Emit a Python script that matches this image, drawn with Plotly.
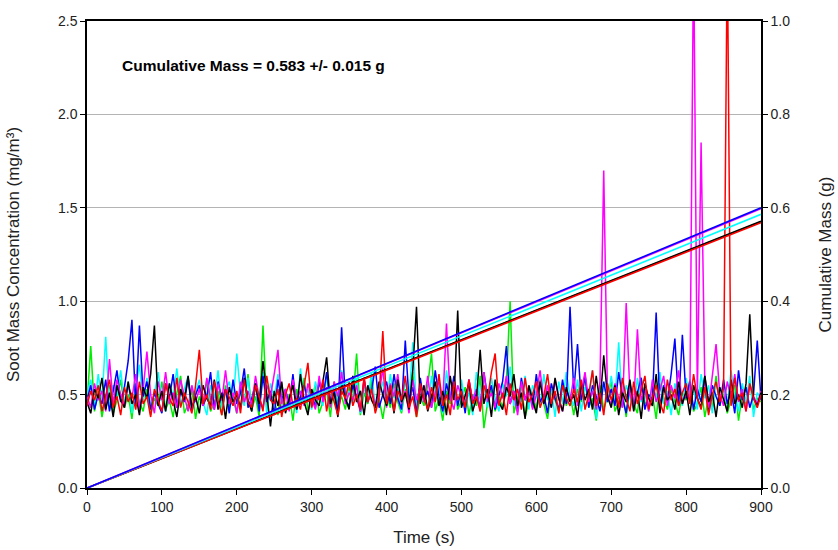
import numpy as np
import plotly.graph_objects as go

# time axis (s), 5-s steps, 0..900
time_s = list(range(0, 905, 5))

# Soot mass concentration (mg/m3), one value per 5 s, rows of 10 (50 s each)
green_conc = [
    0.45, 0.76, 0.41, 0.52, 0.38, 0.49, 0.55, 0.40, 0.47, 0.58,
    0.43, 0.50, 0.37, 0.56, 0.46, 0.41, 0.53, 0.39, 0.48, 0.44,
    0.57, 0.42, 0.47, 0.38, 0.51, 0.60, 0.40, 0.45, 0.53, 0.37,
    0.49, 0.44, 0.58, 0.41, 0.46, 0.52, 0.39, 0.55, 0.43, 0.48,
    0.40, 0.54, 0.46, 0.61, 0.42, 0.49, 0.38, 0.87, 0.44, 0.51,
    0.47, 0.39, 0.56, 0.43, 0.50, 0.36, 0.53, 0.45, 0.59, 0.41,
    0.48, 0.55, 0.40, 0.46, 0.52, 0.38, 0.57, 0.44, 0.49, 0.42,
    0.54, 0.47, 0.72, 0.39, 0.51, 0.45, 0.58, 0.41, 0.48, 0.37,
    0.50, 0.43, 0.56, 0.46, 0.40, 0.53, 0.47, 0.62, 0.38, 0.49,
    0.44, 0.55, 0.72, 0.41, 0.48, 0.36, 0.52, 0.45, 0.58, 0.42,
    0.47, 0.54, 0.39, 0.50, 0.44, 0.60, 0.32, 0.46, 0.53, 0.41,
    0.49, 0.43, 0.57, 1.00, 0.40, 0.48, 0.55, 0.38, 0.46, 0.51,
    0.42, 0.58, 0.45, 0.37, 0.52, 0.47, 0.41, 0.56, 0.44, 0.50,
    0.39, 0.53, 0.46, 0.61, 0.43, 0.48, 0.36, 0.55, 0.42, 0.49,
    0.57, 0.41, 0.47, 0.52, 0.38, 0.54, 0.45, 0.40, 0.59, 0.46,
    0.43, 0.50, 0.37, 0.56, 0.48, 0.42, 0.53, 0.46, 0.39, 0.51,
    0.47, 0.58, 0.41, 0.45, 0.54, 0.38, 0.49, 0.43, 0.60, 0.44,
    0.52, 0.40, 0.47, 0.55, 0.36, 0.50, 0.45, 0.57, 0.42, 0.48,
    0.46,
]
cyan_conc = [
    0.50, 0.58, 0.44, 0.61, 0.47, 0.81, 0.42, 0.55, 0.49, 0.63,
    0.45, 0.57, 0.40, 0.52, 0.66, 0.46, 0.59, 0.43, 0.50, 0.62,
    0.47, 0.41, 0.56, 0.49, 0.64, 0.44, 0.53, 0.60, 0.42, 0.51,
    0.58, 0.46, 0.39, 0.55, 0.48, 0.63, 0.43, 0.52, 0.57, 0.45,
    0.72, 0.50, 0.44, 0.59, 0.41, 0.54, 0.47, 0.62, 0.40, 0.56,
    0.48, 0.61, 0.43, 0.52, 0.45, 0.58, 0.40, 0.64, 0.47, 0.53,
    0.42, 0.57, 0.49, 0.44, 0.60, 0.46, 0.55, 0.41, 0.63, 0.48,
    0.52, 0.45, 0.59, 0.40, 0.54, 0.47, 0.62, 0.43, 0.50, 0.57,
    0.44, 0.61, 0.48, 0.53, 0.41, 0.58, 0.46, 0.78, 0.43, 0.55,
    0.49, 0.42, 0.60, 0.46, 0.55, 0.40, 0.63, 0.48, 0.52, 0.44,
    0.58, 0.45, 0.51, 0.39, 0.62, 0.47, 0.54, 0.43, 0.59, 0.48,
    0.41, 0.56, 0.49, 0.65, 0.44, 0.52, 0.46, 0.60, 0.42, 0.55,
    0.50, 0.43, 0.61, 0.47, 0.53, 0.38, 0.57, 0.45, 0.62, 0.49,
    0.44, 0.58, 0.41, 0.54, 0.48, 0.63, 0.37, 0.51, 0.56, 0.46,
    0.60, 0.47, 0.78, 0.43, 0.55, 0.49, 0.42, 0.59, 0.46, 0.53,
    0.41, 0.57, 0.48, 0.62, 0.45, 0.52, 0.39, 0.56, 0.50, 0.44,
    0.59, 0.46, 0.53, 0.42, 0.61, 0.48, 0.55, 0.40, 0.57, 0.47,
    0.52, 0.44, 0.63, 0.49, 0.41, 0.56, 0.46, 0.60, 0.38, 0.51,
    0.48,
]
blue_conc = [
    0.47, 0.55, 0.42, 0.50, 0.45, 0.58, 0.41, 0.52, 0.63, 0.46,
    0.54, 0.68, 0.90, 0.44, 0.87, 0.49, 0.57, 0.42, 0.51, 0.45,
    0.40, 0.56, 0.48, 0.61, 0.43, 0.52, 0.46, 0.59, 0.41, 0.50,
    0.55, 0.44, 0.49, 0.62, 0.42, 0.57, 0.47, 0.53, 0.40, 0.58,
    0.45, 0.51, 0.64, 0.43, 0.48, 0.56, 0.41, 0.60, 0.46, 0.52,
    0.39, 0.58, 0.47, 0.53, 0.44, 0.61, 0.42, 0.49, 0.55, 0.46,
    0.51, 0.43, 0.57, 0.48, 0.62, 0.45, 0.53, 0.40, 0.86, 0.47,
    0.44, 0.55, 0.49, 0.41, 0.58, 0.46, 0.52, 0.65, 0.43, 0.50,
    0.57, 0.45, 0.61, 0.48, 0.42, 0.79, 0.47, 0.54, 0.40, 0.59,
    0.46, 0.52, 0.43, 0.63, 0.49, 0.41, 0.56, 0.47, 0.60, 0.44,
    0.53, 0.40, 0.58, 0.46, 0.51, 0.43, 0.62, 0.48, 0.55, 0.42,
    0.49, 0.57, 0.76, 0.45, 0.52, 0.41, 0.59, 0.47, 0.54, 0.43,
    0.61, 0.46, 0.50, 0.40, 0.56, 0.48, 0.42, 0.58, 0.45, 0.97,
    0.51, 0.77, 0.47, 0.60, 0.43, 0.55, 0.49, 0.41, 0.57, 0.46,
    0.53, 0.44, 0.62, 0.48, 0.40, 0.56, 0.45, 0.51, 0.59, 0.42,
    0.50, 0.47, 0.94, 0.43, 0.55, 0.46, 0.61, 0.80, 0.44, 0.82,
    0.48, 0.57, 0.42, 0.53, 0.46, 0.60, 0.41, 0.55, 0.49, 0.44,
    0.58, 0.45, 0.52, 0.40, 0.63, 0.47, 0.54, 0.43, 0.50, 0.79,
    0.47,
]
magenta_conc = [
    0.49, 0.43, 0.56, 0.47, 0.52, 0.41, 0.69, 0.45, 0.58, 0.50,
    0.44, 0.55, 0.48, 0.61, 0.42, 0.53, 0.73, 0.50, 0.40, 0.57,
    0.47, 0.62, 0.45, 0.51, 0.43, 0.58, 0.49, 0.41, 0.55, 0.46,
    0.53, 0.44, 0.59, 0.48, 0.42, 0.56, 0.47, 0.63, 0.45, 0.51,
    0.40, 0.57, 0.46, 0.52, 0.44, 0.60, 0.48, 0.43, 0.55, 0.49,
    0.61, 0.74, 0.45, 0.53, 0.41, 0.58, 0.47, 0.52, 0.44, 0.56,
    0.48, 0.42, 0.60, 0.46, 0.54, 0.43, 0.57, 0.49, 0.62, 0.45,
    0.51, 0.47, 0.55, 0.41, 0.59, 0.46, 0.53, 0.44, 0.50, 0.64,
    0.43, 0.56, 0.49, 0.61, 0.45, 0.52, 0.40, 0.58, 0.47, 0.54,
    0.46, 0.60, 0.43, 0.51, 0.57, 0.45, 0.88, 0.48, 0.42, 0.55,
    0.49, 0.44, 0.58, 0.47, 0.53, 0.41, 0.62, 0.46, 0.51, 0.43,
    0.56, 0.48, 0.60, 0.45, 0.52, 0.39, 0.57, 0.47, 0.54, 0.42,
    0.50, 0.63, 0.46, 0.55, 0.43, 0.58, 0.48, 0.41, 0.53, 0.47,
    0.59, 0.44, 0.51, 0.62, 0.46, 0.52, 0.42, 0.57, 1.70, 0.49,
    0.45, 0.56, 0.48, 0.43, 0.99, 0.50, 0.44, 0.85, 0.47, 0.53,
    0.41, 0.58, 0.46, 0.52, 0.60, 0.44, 0.55, 0.48, 0.63, 0.45,
    0.51, 0.47, 2.90, 0.49, 1.85, 0.56, 0.43, 0.59, 0.77, 0.50,
    0.44, 0.57, 0.48, 0.61, 0.46, 0.53, 0.41, 0.55, 0.49, 0.45,
    0.52,
]
black_conc = [
    0.46, 0.40, 0.53, 0.48, 0.59, 0.42, 0.51, 0.38, 0.55, 0.47,
    0.43, 0.57, 0.45, 0.50, 0.39, 0.54, 0.48, 0.61, 0.87, 0.44,
    0.52, 0.41, 0.56, 0.46, 0.38, 0.53, 0.47, 0.60, 0.43, 0.49,
    0.40, 0.55, 0.48, 0.44, 0.58, 0.42, 0.51, 0.37, 0.54, 0.46,
    0.50, 0.43, 0.59, 0.47, 0.41, 0.56, 0.45, 0.68, 0.49, 0.33,
    0.52, 0.44, 0.57, 0.40, 0.48, 0.55, 0.42, 0.61, 0.46, 0.39,
    0.53, 0.47, 0.44, 0.58, 0.70, 0.45, 0.51, 0.38, 0.56, 0.48,
    0.42, 0.60, 0.46, 0.52, 0.39, 0.55, 0.47, 0.43, 0.57, 0.50,
    0.44, 0.53, 0.40, 0.58, 0.46, 0.51, 0.42, 0.63, 0.97, 0.45,
    0.55, 0.41, 0.49, 0.57, 0.44, 0.52, 0.39, 0.60, 0.47, 0.95,
    0.43, 0.50, 0.56, 0.41, 0.48, 0.74, 0.45, 0.53, 0.38, 0.58,
    0.46, 0.42, 0.54, 0.49, 0.61, 0.44, 0.51, 0.37, 0.55, 0.47,
    0.40, 0.57, 0.45, 0.52, 0.43, 0.59, 0.48, 0.41, 0.54, 0.46,
    0.50, 0.38, 0.56, 0.47, 0.53, 0.42, 0.60, 0.45, 0.71, 0.49,
    0.43, 0.55, 0.39, 0.51, 0.46, 0.58, 0.41, 0.52, 0.37, 0.56,
    0.48, 0.44, 0.61, 0.40, 0.54, 0.47, 0.50, 0.42, 0.57, 0.45,
    0.52, 0.39, 0.55, 0.48, 0.43, 0.60, 0.46, 0.51, 0.38, 0.54,
    0.47, 0.41, 0.58, 0.45, 0.50, 0.43, 0.56, 0.93, 0.48, 0.44,
    0.51,
]
red_conc = [
    0.44, 0.52, 0.47, 0.55, 0.41, 0.50, 0.58, 0.43, 0.49, 0.39,
    0.54, 0.46, 0.51, 0.42, 0.57, 0.45, 0.49, 0.38, 0.53, 0.47,
    0.41, 0.56, 0.48, 0.44, 0.59, 0.43, 0.51, 0.46, 0.40, 0.55,
    0.74, 0.45, 0.50, 0.42, 0.57, 0.47, 0.39, 0.53, 0.48, 0.44,
    0.52, 0.40, 0.58, 0.46, 0.43, 0.55, 0.49, 0.41, 0.60, 0.47,
    0.45, 0.53, 0.38, 0.50, 0.56, 0.44, 0.48, 0.42, 0.55, 0.67,
    0.43, 0.51, 0.47, 0.58, 0.41, 0.54, 0.46, 0.39, 0.52, 0.48,
    0.57, 0.44, 0.50, 0.42, 0.59, 0.46, 0.53, 0.40, 0.48, 0.84,
    0.45, 0.55, 0.41, 0.52, 0.47, 0.60, 0.43, 0.49, 0.38, 0.56,
    0.48, 0.42, 0.54, 0.46, 0.61, 0.44, 0.50, 0.39, 0.57, 0.47,
    0.52, 0.43, 0.58, 0.45, 0.49, 0.41, 0.55, 0.48, 0.62, 0.72,
    0.44, 0.51, 0.39, 0.56, 0.47, 0.53, 0.42, 0.59, 0.46, 0.50,
    0.57, 0.43, 0.49, 0.61, 0.45, 0.52, 0.40, 0.55, 0.48, 0.44,
    0.53, 0.46, 0.58, 0.42, 0.50, 0.63, 0.44, 0.51, 0.39, 0.56,
    0.47, 0.54, 0.43, 0.59, 0.48, 0.41, 0.57, 0.45, 0.52, 0.60,
    0.42, 0.49, 0.55, 0.46, 0.40, 0.58, 0.47, 0.53, 0.44, 0.51,
    0.56, 0.45, 0.61, 0.48, 0.42, 0.54, 0.39, 0.50, 0.57, 0.46,
    0.53, 2.90, 0.44, 0.59, 0.47, 0.51, 0.41, 0.56, 0.48, 0.43,
    0.50,
]

# Cumulative mass (g) lines: start / end of each test
cum_time = [0, 900]
cum_green = [0.0, 0.570]
cum_cyan = [0.0, 0.586]
cum_blue = [0.0, 0.600]
cum_magenta = [0.0, 0.598]
cum_black = [0.0, 0.571]
cum_red = [0.0, 0.568]

annotation_text = "Cumulative Mass = 0.583 +/- 0.015 g"

series = [
    ("green", "#00ee00", green_conc, cum_green),
    ("cyan", "#00ffff", cyan_conc, cum_cyan),
    ("blue", "#0000ff", blue_conc, cum_blue),
    ("magenta", "#ff00ff", magenta_conc, cum_magenta),
    ("black", "#000000", black_conc, cum_black),
    ("red", "#ff0000", red_conc, cum_red),
]

fig = go.Figure()
for name, col, conc, cum in series:
    fig.add_trace(go.Scatter(x=time_s, y=conc, mode="lines", name=name,
                             line=dict(color=col, width=1.5), yaxis="y",
                             showlegend=False))
for name, col, conc, cum in [series[0], series[4], series[5], series[1], series[3], series[2]]:
    fig.add_trace(go.Scatter(x=cum_time, y=cum, mode="lines", name=name + " cum",
                             line=dict(color=col, width=1.6), yaxis="y2",
                             showlegend=False))

axis_font = dict(family="Liberation Sans, Arial, sans-serif", size=14, color="#222")
title_font = dict(family="Liberation Sans, Arial, sans-serif", size=17, color="#222")

fig.update_layout(
    width=838, height=550,
    margin=dict(l=87, r=77, t=21, b=62),
    paper_bgcolor="white", plot_bgcolor="white",
    xaxis=dict(range=[0, 900], tickmode="linear", tick0=0, dtick=100,
               showgrid=False, zeroline=False, showline=True, linecolor="black",
               linewidth=1.5, mirror=True, ticks="outside", ticklen=5,
               tickcolor="black", tickfont=axis_font, automargin=False,
               title=dict(text="Time (s)", font=title_font, standoff=18)),
    yaxis=dict(range=[0, 2.5], tickmode="linear", tick0=0, dtick=0.5,
               tickformat=".1f", showgrid=True, gridcolor="#b4b4b4", gridwidth=1,
               zeroline=False, showline=True, linecolor="black", linewidth=1.5,
               ticks="outside", ticklen=5, tickcolor="black", tickfont=axis_font,
               automargin=False,
               title=dict(text="Soot Mass Concentration (mg/m³)", font=title_font,
                          standoff=34)),
    yaxis2=dict(range=[0, 1.0], tickmode="linear", tick0=0, dtick=0.2,
                tickformat=".1f", overlaying="y", side="right", showgrid=False,
                zeroline=False, showline=True, linecolor="black", linewidth=1.5,
                ticks="outside", ticklen=5, tickcolor="black", tickfont=axis_font,
                automargin=False,
                title=dict(text="Cumulative Mass (g)", font=title_font, standoff=30)),
    annotations=[dict(x=44, y=2.26, xref="x", yref="y", xanchor="left",
                      yanchor="middle", text="<b>" + annotation_text + "</b>",
                      showarrow=False,
                      font=dict(family="Liberation Sans, Arial, sans-serif",
                                size=15.5, color="black"))],
)

fig.write_html("out.html", config={"displayModeBar": False},
               post_script="document.body.style.margin='0';document.body.style.padding='0';")
